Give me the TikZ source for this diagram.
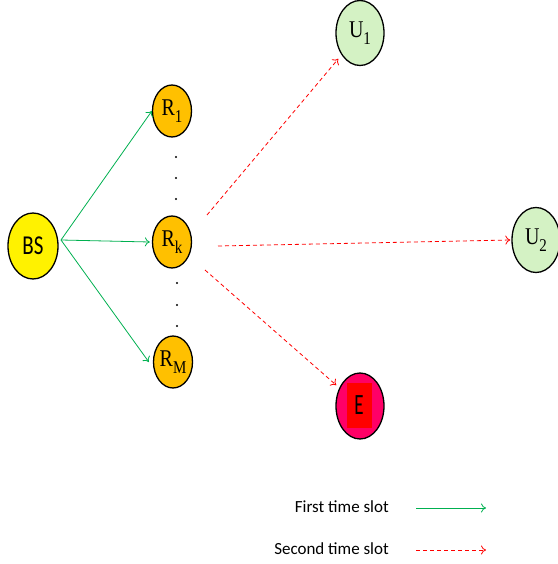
\documentclass[tikz,border=0pt]{standalone}
\usepackage{fontspec}
\newfontfamily\calib{Carlito}
\newfontfamily\serl{Liberation Serif}
\usetikzlibrary{shapes.geometric,arrows.meta}
\newcommand{\lsub}[1]{\raisebox{-0.3em}{\fontsize{15}{15}\selectfont #1}}
\newcommand{\nlab}[2]{\scalebox{1}[1.2]{\serl\fontsize{20}{20}\selectfont #1\lsub{#2}}}
\begin{document}
\begin{tikzpicture}[x=1pt,y=-1pt,
  ell/.style={ellipse,draw=black,line width=1.3pt,inner sep=0pt},
  relay/.style={ell,fill={rgb,255:red,255;green,192;blue,0},minimum width=39pt,minimum height=52pt},
  usr/.style={ell,fill={rgb,255:red,212;green,242;blue,196},minimum width=48pt,minimum height=65pt},
  first/.style={draw={rgb,255:red,0;green,176;blue,80},line width=0.8pt,-{To[length=5pt,width=9pt]}},
  second/.style={draw=red,line width=0.8pt,dash pattern=on 4pt off 3pt,-{To[length=5pt,width=9pt]}},
  dotn/.style={circle,fill=black,inner sep=0pt,minimum size=2.4pt},
  leg/.style={font=\calib\fontsize{17}{17}\selectfont,anchor=east,inner sep=0pt}
]
\useasboundingbox (0,0) rectangle (557,564);

\node[ell,fill=yellow,minimum width=50pt,minimum height=66pt] (bs) at (33,246) {\calib\fontsize{21}{21}\selectfont\scalebox{1}[1.3]{BS}};
\node[relay] (r1) at (172,111) {\nlab{R}{1}};
\node[relay] (rk) at (172,242) {\nlab{R}{k}};
\node[relay] (rm) at (173,362) {\nlab{R}{M}};
\node[usr] (u1) at (360,33) {\nlab{U}{1}};
\node[usr] (u2) at (536,240) {\nlab{U}{2}};
\node[ell,fill={rgb,255:red,255;green,0;blue,102},minimum width=48pt,minimum height=66pt] (e) at (360,406) {};
\fill[red] (347,383) rectangle (372,428);
\node[inner sep=0pt] (elab) at (359,405) {\calib\fontsize{19}{19}\selectfont\scalebox{1}[1.55]{E}};

\node[dotn] (d1) at (176,157) {};
\node[dotn] (d2) at (176,178) {};
\node[dotn] (d3) at (176,199) {};
\node[dotn] (d4) at (177,283) {};
\node[dotn] (d5) at (177,305) {};
\node[dotn] (d6) at (177,326) {};

\coordinate (bsout) at (61,240);
\draw[first] (bsout) -- (r1.west);
\draw[first] (bsout) -- ([xshift=-2pt]rk.west);
\draw[first] (bsout) -- ([xshift=-4pt]rm.west);

\coordinate (k1) at (207,215);
\coordinate (k2) at (218,246);
\coordinate (k3) at (205,270);
\draw[second,shorten >=5pt] (k1) -- (u1);
\draw[second] (k2) -- ([xshift=-1pt]u2.west);
\draw[second,shorten >=4pt] (k3) -- (e);

\node[leg] (l1) at (389,507) {First time slot};
\node[leg] (l2) at (389,549) {Second time slot};
\coordinate (a1) at (416,508);
\coordinate (b1) at (486,508);
\coordinate (a2) at (416,550);
\coordinate (b2) at (486,550);
\draw[first] (a1) -- (b1);
\draw[second] (a2) -- (b2);
\end{tikzpicture}
\end{document}
